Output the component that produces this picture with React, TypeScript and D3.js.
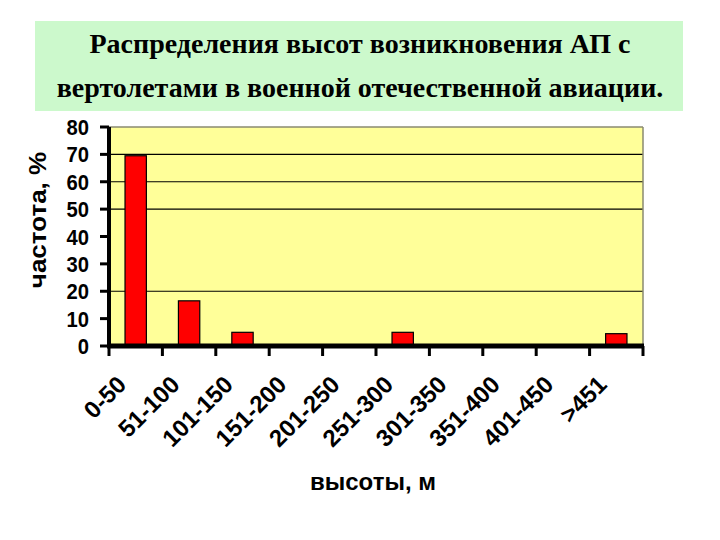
import React from "react";
import * as d3 from "d3";

const categories = ["0-50", "51-100", "101-150", "151-200", "201-250", "251-300", "301-350", "351-400", "401-450", ">451"];
const values = [69.5, 16.5, 5, 0, 0, 5, 0, 0, 0, 4.5];
const yTicks = [0, 10, 20, 30, 40, 50, 60, 70, 80];
const gridValues = [20, 50, 60, 70];
const titleLines = ["Распределения высот возникновения АП с", "вертолетами в военной отечественной авиации."];
const yTitle = "частота, %";
const xTitle = "высоты, м";

export default function App() {
  const W = 720, H = 540;
  const left = 109, right = 643, top = 127, bottom = 346;
  const x = d3.scaleBand<string>().domain(categories).range([left, right]).paddingInner(0).paddingOuter(0);
  const y = d3.scaleLinear().domain([0, 80]).range([bottom, top]);
  const bw = x.bandwidth() * 0.4;
  const sans = "'Liberation Sans', Arial, sans-serif";
  const serif = "'Liberation Serif', 'Times New Roman', serif";
  const boundaries = categories.map((c) => x(c) as number).concat([right]);

  return (
    <svg width={W} height={H} style={{ position: "absolute", left: 0, top: 0, background: "#fff" }}>
      <rect x={35} y={21} width={648} height={90} fill="#ccf9cc" />
      {titleLines.map((t, i) => (
        <text key={i} x={360} y={53 + i * 44} textAnchor="middle" fontFamily={serif} fontWeight="bold" fontSize={28} fill="#000">
          {t}
        </text>
      ))}
      <rect x={left} y={top} width={right - left} height={bottom - top} fill="#ffff99" />
      {gridValues.map((v) => (
        <line key={v} x1={left} x2={right} y1={y(v)} y2={y(v)} stroke="#000" strokeWidth={1.1} />
      ))}
      <line x1={left} x2={right} y1={top} y2={top} stroke="#8a8a70" strokeWidth={1.5} />
      <line x1={right} x2={right} y1={top} y2={bottom} stroke="#8a8a70" strokeWidth={1.5} />
      {categories.map((c, i) => {
        const v = values[i];
        if (v <= 0) return null;
        const cx = (x(c) as number) + x.bandwidth() / 2;
        return (
          <rect key={c} x={cx - bw / 2} y={y(v)} width={bw} height={bottom - y(v)} fill="#ff0000" stroke="#000" strokeWidth={1.2} />
        );
      })}
      <line x1={left} x2={left} y1={top} y2={bottom + 2} stroke="#000" strokeWidth={4} />
      {yTicks.map((t) => (
        <g key={t}>
          <line x1={left - 9} x2={left} y1={y(t)} y2={y(t)} stroke="#000" strokeWidth={3} />
          <text transform={`translate(89 ${y(t) + 8}) scale(0.92 1)`} textAnchor="end" fontFamily={sans} fontWeight="bold" fontSize={22} fill="#000">
            {t}
          </text>
        </g>
      ))}
      <line x1={left - 2} x2={right + 1} y1={bottom} y2={bottom} stroke="#000" strokeWidth={5} />
      {boundaries.map((b, i) => (
        <line key={i} x1={b} x2={b} y1={bottom} y2={bottom + 10} stroke="#000" strokeWidth={3} />
      ))}
      {categories.map((c) => {
        const cx = (x(c) as number) + x.bandwidth() / 2;
        const ax = cx - 8, ay = 386;
        return (
          <text key={c} x={ax} y={ay} transform={`rotate(-45 ${ax} ${ay})`} textAnchor="end" fontFamily={sans} fontWeight="bold" fontSize={24} fill="#000">
            {c}
          </text>
        );
      })}
      <text x={373} y={490} textAnchor="middle" fontFamily={sans} fontWeight="bold" fontSize={24} fill="#000">
        {xTitle}
      </text>
      <text x={0} y={0} transform={`translate(46 ${220}) scale(0.9 1) rotate(-90)`} textAnchor="middle" fontFamily={sans} fontWeight="bold" fontSize={26} fill="#000">
        {yTitle}
      </text>
    </svg>
  );
}
